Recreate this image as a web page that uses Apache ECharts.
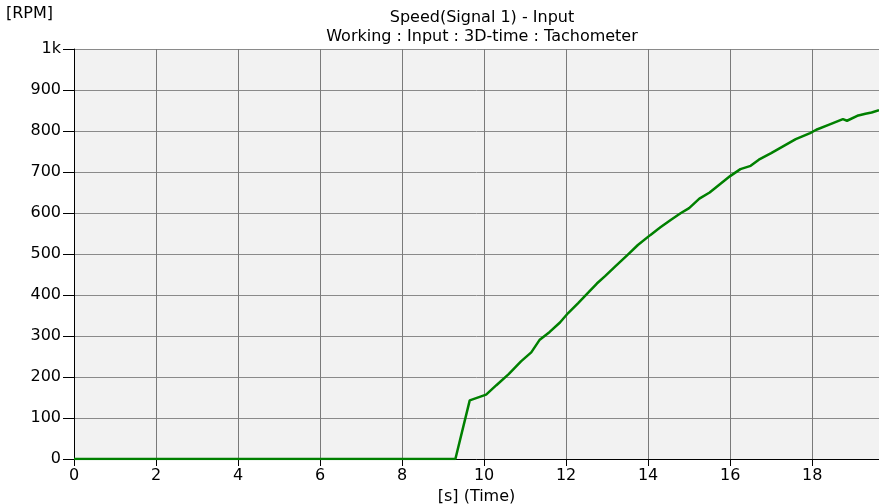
<!DOCTYPE html>
<html>
<head>
<meta charset="utf-8">
<script src="https://cdn.jsdelivr.net/npm/echarts@6/dist/echarts.min.js"></script>
<style>
  html, body { margin: 0; padding: 0; background: #fff; }
  #chart { width: 879px; height: 504px; }
</style>
</head>
<body>
<div id="chart"></div>
<script>
// time [s] and speed [RPM]
const timeS = [0, 9.3, 9.65, 10.05, 10.3, 10.6, 10.9, 11.15, 11.35, 11.6, 11.85, 12.05, 12.3, 12.55, 12.75, 12.95,
  13.2, 13.5, 13.75, 14.05, 14.3, 14.55, 14.8, 15.0, 15.25, 15.5, 15.75, 16.0, 16.25, 16.5, 16.7, 17.0, 17.3,
  17.6, 17.95, 18.1, 18.4, 18.75, 18.85, 19.1, 19.3, 19.45, 19.63];
const speedRpm = [0, 0, 143, 157, 180, 207, 238, 260, 290, 310, 333, 356, 381, 407, 428, 446,
  470, 498, 522, 546, 565, 583, 600, 612, 635, 650, 670, 690, 707, 715, 730, 746, 763,
  780, 795, 803, 815, 829, 825, 837, 842, 845, 851];

const font = '"DejaVu Sans", sans-serif';
const chart = echarts.init(document.getElementById('chart'));

chart.setOption({
  animation: false,
  title: {
    text: 'Speed(Signal 1) - Input\nWorking : Input : 3D-time : Tachometer',
    left: 482, top: 8, padding: 0, textAlign: 'center',
    textStyle: { fontFamily: font, fontSize: 16, fontWeight: 'normal', color: '#000', lineHeight: 19 }
  },
  grid: {
    left: 74, right: 0, top: 49, bottom: 45,
    outerBoundsMode: 'none',
    show: true, backgroundColor: '#f2f2f2', borderWidth: 0
  },
  xAxis: {
    type: 'value', min: 0, max: 19.63, interval: 2,
    name: '[s] (Time)', nameLocation: 'middle', nameGap: 26,
    nameTextStyle: { fontFamily: font, fontSize: 16, color: '#000' },
    axisLine: { lineStyle: { color: '#000', width: 1 } },
    axisTick: { length: 7, lineStyle: { color: '#000' } },
    axisLabel: { showMaxLabel: false, fontFamily: font, fontSize: 16, color: '#000', margin: 9 },
    splitLine: { show: true, lineStyle: { color: '#7a7a7a', width: 1 } }
  },
  yAxis: {
    type: 'value', min: 0, max: 1000, interval: 100,
    name: '[RPM]', nameLocation: 'end', nameGap: 27,
    nameTextStyle: { fontFamily: font, fontSize: 16, color: '#000', align: 'right', padding: [0, 21, 0, 0] },
    axisLine: { show: true, lineStyle: { color: '#000', width: 1 } },
    axisTick: { show: true, length: 11, lineStyle: { color: '#000' } },
    axisLabel: {
      fontFamily: font, fontSize: 16, color: '#000', margin: 13,
      formatter: v => (v === 1000 ? '1k' : String(v))
    },
    splitLine: { show: true, lineStyle: { color: '#8a8a8a', width: 1 } }
  },
  series: [{
    type: 'line',
    data: timeS.map((t, i) => [t, speedRpm[i]]),
    showSymbol: false,
    lineStyle: { color: '#008000', width: 2.5 },
    itemStyle: { color: '#008000' }
  }]
});
</script>
</body>
</html>
